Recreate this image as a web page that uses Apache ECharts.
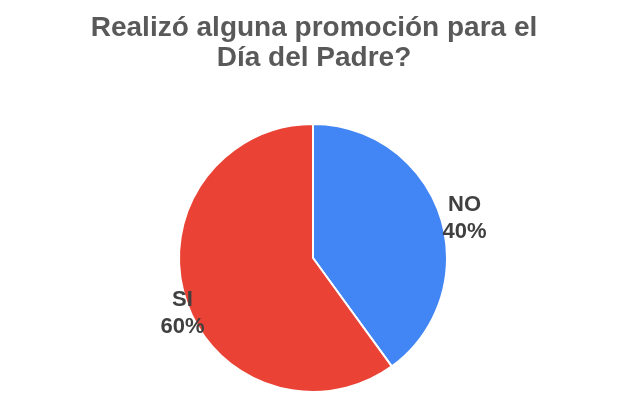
<!DOCTYPE html>
<html>
<head>
<meta charset="utf-8">
<script src="https://cdn.jsdelivr.net/npm/echarts@6/dist/echarts.min.js"></script>
<style>html,body{margin:0;padding:0;background:#fff}#c{width:642px;height:418px}</style>
</head>
<body>
<div id="c"></div>
<script>
const titleText = 'Realizó alguna promoción para el\nDía del Padre?';
const categories = ['NO', 'SI'];
const values = [40, 60];
const colors = ['#4285f4', '#ea4335'];
const labelOffsets = [[85, -18], [-64, 34]];

const chart = echarts.init(document.getElementById('c'), null, {renderer: 'canvas'});
chart.setOption({
  animation: false,
  backgroundColor: '#ffffff',
  title: {
    text: titleText,
    left: 309,
    top: 8,
    textAlign: 'center',
    textStyle: {
      fontFamily: 'Liberation Sans, Arial, sans-serif',
      fontSize: 28,
      fontWeight: 'bold',
      color: '#595959',
      lineHeight: 30
    }
  },
  series: [{
    type: 'pie',
    center: [313, 258],
    radius: [0, 134],
    startAngle: 90,
    clockwise: true,
    itemStyle: { borderColor: '#ffffff', borderWidth: 2 },
    label: {
      show: true,
      position: 'inside',
      formatter: p => p.name + '\n' + Math.round(p.percent) + '%',
      fontFamily: 'Liberation Sans, Arial, sans-serif',
      fontSize: 22,
      fontWeight: 'bold',
      color: '#404040',
      lineHeight: 27,
      align: 'center'
    },
    labelLine: { show: false },
    emphasis: { disabled: true },
    data: categories.map((n, i) => ({
      name: n,
      value: values[i],
      itemStyle: { color: colors[i] },
      label: { offset: labelOffsets[i] }
    }))
  }]
});
</script>
</body>
</html>
